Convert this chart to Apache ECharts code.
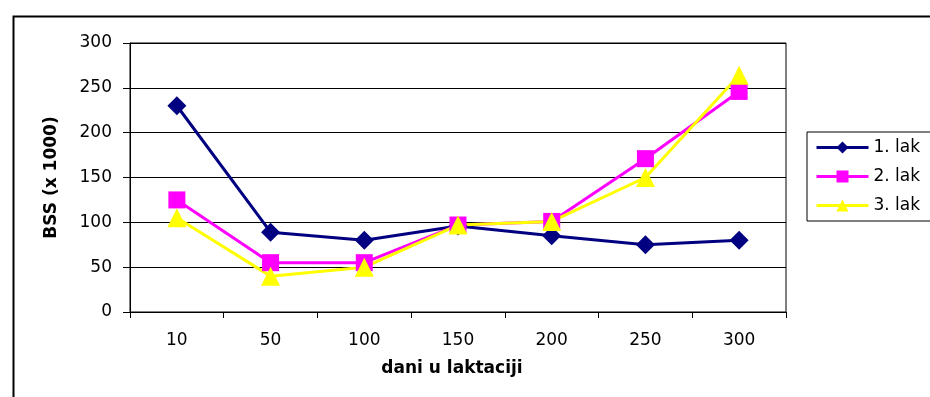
<!DOCTYPE html>
<html><head><meta charset="utf-8">
<script src="https://cdn.jsdelivr.net/npm/echarts@6/dist/echarts.min.js"></script>
<style>html,body{margin:0;padding:0;background:#fff;}#c{width:930px;height:397px;}</style>
</head><body><div id="c"></div>
<script>
var categories = ['10','50','100','150','200','250','300'];
var lak1 = [230, 89, 80, 96, 85, 75, 80];
var lak2 = [125, 55, 55, 97, 101, 171, 246];
var lak3 = [105, 40, 50, 97, 101, 150, 264];
var seriesNames = ['1. lak', '2. lak', '3. lak'];
var yTicks = { min: 0, max: 300, interval: 50 };

var font = 'DejaVu Sans';
var chart = echarts.init(document.getElementById('c'));
chart.setOption({
  animation: false,
  backgroundColor: '#fff',
  graphic: [{
    type: 'rect', left: 11, top: 14, z: 0, silent: true,
    shape: { width: 1000, height: 500 },
    style: { fill: 'none', stroke: '#000', lineWidth: 2 }
  }],
  grid: { left: 130, right: 144, top: 43, bottom: 85, show: true, borderColor: '#000', borderWidth: 1, backgroundColor: 'transparent' },
  legend: {
    orient: 'vertical', left: 807, top: 132,
    backgroundColor: '#fff', borderColor: '#000', borderWidth: 1,
    padding: [7, 60, 7, 8], itemGap: 12, itemWidth: 52, itemHeight: 15,
    lineStyle: { width: 3 },
    textStyle: { fontFamily: font, fontSize: 17, color: '#000' },
    data: seriesNames
  },
  xAxis: {
    type: 'category', data: categories, boundaryGap: true,
    axisLine: { lineStyle: { color: '#000', width: 1 } },
    axisTick: { show: true, length: 6, lineStyle: { color: '#000' } },
    axisLabel: { margin: 20, fontFamily: font, fontSize: 17, color: '#000' },
    name: 'dani u laktaciji', nameLocation: 'middle', nameGap: 48,
    nameTextStyle: { fontFamily: font, fontSize: 17, fontWeight: 'bold', color: '#000', padding: [0, 0, 0, -12] }
  },
  yAxis: {
    type: 'value', min: yTicks.min, max: yTicks.max, interval: yTicks.interval,
    axisLine: { show: true, lineStyle: { color: '#000', width: 1 } },
    axisTick: { show: true, length: 7, lineStyle: { color: '#000' } },
    splitLine: { show: true, lineStyle: { color: '#000', width: 1 } },
    axisLabel: { margin: 18, fontFamily: font, fontSize: 17, color: '#000' },
    name: 'BSS (x 1000)', nameLocation: 'middle', nameGap: 70, nameRotate: 90,
    nameTextStyle: { fontFamily: font, fontSize: 17, fontWeight: 'bold', color: '#000' }
  },
  series: [
    { name: seriesNames[0], type: 'line', data: lak1, symbol: 'diamond', symbolSize: 19,
      itemStyle: { color: '#000080' }, lineStyle: { color: '#000080', width: 3 } },
    { name: seriesNames[1], type: 'line', data: lak2, symbol: 'rect', symbolSize: 17,
      itemStyle: { color: '#FF00FF' }, lineStyle: { color: '#FF00FF', width: 3 } },
    { name: seriesNames[2], type: 'line', data: lak3, symbol: 'triangle', symbolSize: 19,
      itemStyle: { color: '#FFFF00' }, lineStyle: { color: '#FFFF00', width: 3 } }
  ]
});
</script></body></html>
